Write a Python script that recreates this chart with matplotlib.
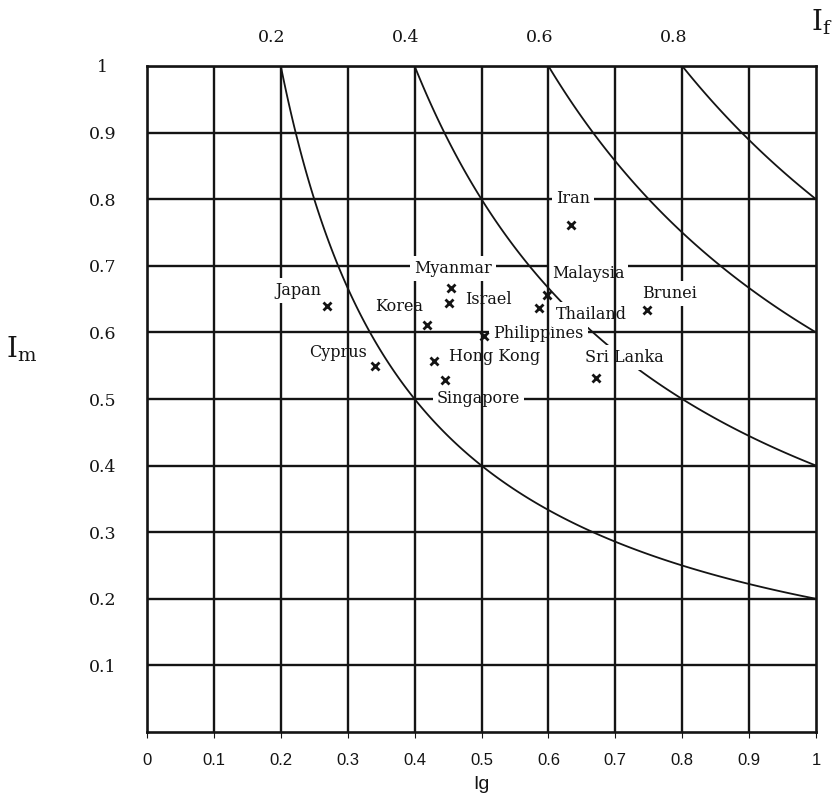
import numpy as np
import matplotlib
matplotlib.use("Agg")
import matplotlib.pyplot as plt

# ---- data -------------------------------------------------------------
countries = ["Japan", "Korea", "Cyprus", "Myanmar", "Israel", "Philippines",
             "Hong Kong", "Singapore", "Malaysia", "Thailand", "Sri Lanka",
             "Brunei", "Iran"]
ig_values = [0.269, 0.419, 0.341, 0.454, 0.451, 0.503,
             0.429, 0.446, 0.598, 0.586, 0.671,
             0.748, 0.634]
im_values = [0.639, 0.611, 0.549, 0.667, 0.644, 0.595,
             0.557, 0.529, 0.656, 0.636, 0.532,
             0.633, 0.762]

if_levels = [0.2, 0.4, 0.6, 0.8]
if_labels = ["0.2", "0.4", "0.6", "0.8"]

x_ticks = [0, 0.1, 0.2, 0.3, 0.4, 0.5, 0.6, 0.7, 0.8, 0.9, 1.0]
x_tick_labels = ["0", "0.1", "0.2", "0.3", "0.4", "0.5", "0.6", "0.7", "0.8", "0.9", "1"]
y_ticks = [0.1, 0.2, 0.3, 0.4, 0.5, 0.6, 0.7, 0.8, 0.9, 1.0]
y_tick_labels = ["0.1", "0.2", "0.3", "0.4", "0.5", "0.6", "0.7", "0.8", "0.9", "1"]

# ---- label placement (pixel offsets from each point) -------------------
label_offsets = {
    "Japan": (-29, 16), "Korea": (-28, 19), "Cyprus": (-37, 14),
    "Myanmar": (2, 19), "Israel": (40, 4), "Philippines": (55, 2),
    "Hong Kong": (61, 5), "Singapore": (33, -19), "Malaysia": (41, 22),
    "Thailand": (52, -6), "Sri Lanka": (28, 20), "Brunei": (22, 17),
    "Iran": (2, 26),
}
# labels whose white box also hides the vertical rulings
covering_labels = {"Japan", "Myanmar", "Brunei"}

SERIF = "DejaVu Serif"
SANS = "Liberation Sans"
INK = "#141414"

plt.rcParams["font.family"] = SERIF
plt.rcParams["mathtext.fontset"] = "dejavuserif"

fig = plt.figure(figsize=(8.38, 8.02), dpi=100)
ax = fig.add_axes([147 / 838, 1 - 732 / 802, (816 - 147) / 838, (732 - 66) / 802])
ax.set_xlim(0, 1)
ax.set_ylim(0, 1)

# horizontal rulings (below the label boxes)
for y in y_ticks:
    ax.axhline(y, color=INK, lw=1.7, zorder=1)
# vertical rulings (drawn over most labels)
for x in x_ticks[1:-1]:
    ax.axvline(x, color=INK, lw=1.7, zorder=3)

# iso-If curves: If = Ig * Im
g = np.linspace(0.0, 1.0, 601)
G, M = np.meshgrid(g, g)
ax.contour(G, M, G * M, levels=if_levels, colors=INK, linewidths=1.3, zorder=1.5)

# points and their labels
ax.plot(ig_values, im_values, linestyle="none", marker="x", markersize=5.5,
        markeredgewidth=2.0, color=INK, zorder=6)
for name, x, y in zip(countries, ig_values, im_values):
    ax.annotate(name, (x, y), xytext=label_offsets[name], textcoords="offset pixels",
                ha="center", va="center", fontsize=11.5, color=INK,
                bbox=dict(boxstyle="square,pad=0.25", fc="white", ec="none"),
                zorder=4 if name in covering_labels else 2)

# axes frame
for side in ax.spines.values():
    side.set_linewidth(1.9)
    side.set_color(INK)
    side.set_zorder(7)

# bottom Ig scale
ax.set_xticks(x_ticks, labels=x_tick_labels)
ax.tick_params(axis="x", length=4, width=0.8, pad=11, labelsize=12, colors=INK)
for lbl in ax.get_xticklabels():
    lbl.set_fontfamily(SANS)
ax.set_xlabel("Ig", fontsize=14, family=SANS, color=INK)
ax.xaxis.set_label_coords(0.5, -0.066)

# left Im scale
ax.set_yticks(y_ticks, labels=y_tick_labels)
ax.tick_params(axis="y", length=0, pad=32, labelsize=12.5, colors=INK)
for lbl in ax.get_yticklabels():
    lbl.set_horizontalalignment("center")

# top If scale where each curve meets Im = 1
for v, txt in zip(if_levels, if_labels):
    ax.annotate(txt, (v, 1), xycoords=("data", "axes fraction"), xytext=(-9, 29),
                textcoords="offset pixels", ha="center", va="center",
                fontsize=12.5, color=INK, annotation_clip=False)

ax.text(1.009, 1.066, r"$\mathrm{I_f}$", transform=ax.transAxes, ha="center",
        va="center", fontsize=20, color=INK)
ax.text(-0.187, 0.574, r"$\mathrm{I_m}$", transform=ax.transAxes, ha="center",
        va="center", fontsize=20, color=INK)

fig.savefig("out.png", dpi=100)
